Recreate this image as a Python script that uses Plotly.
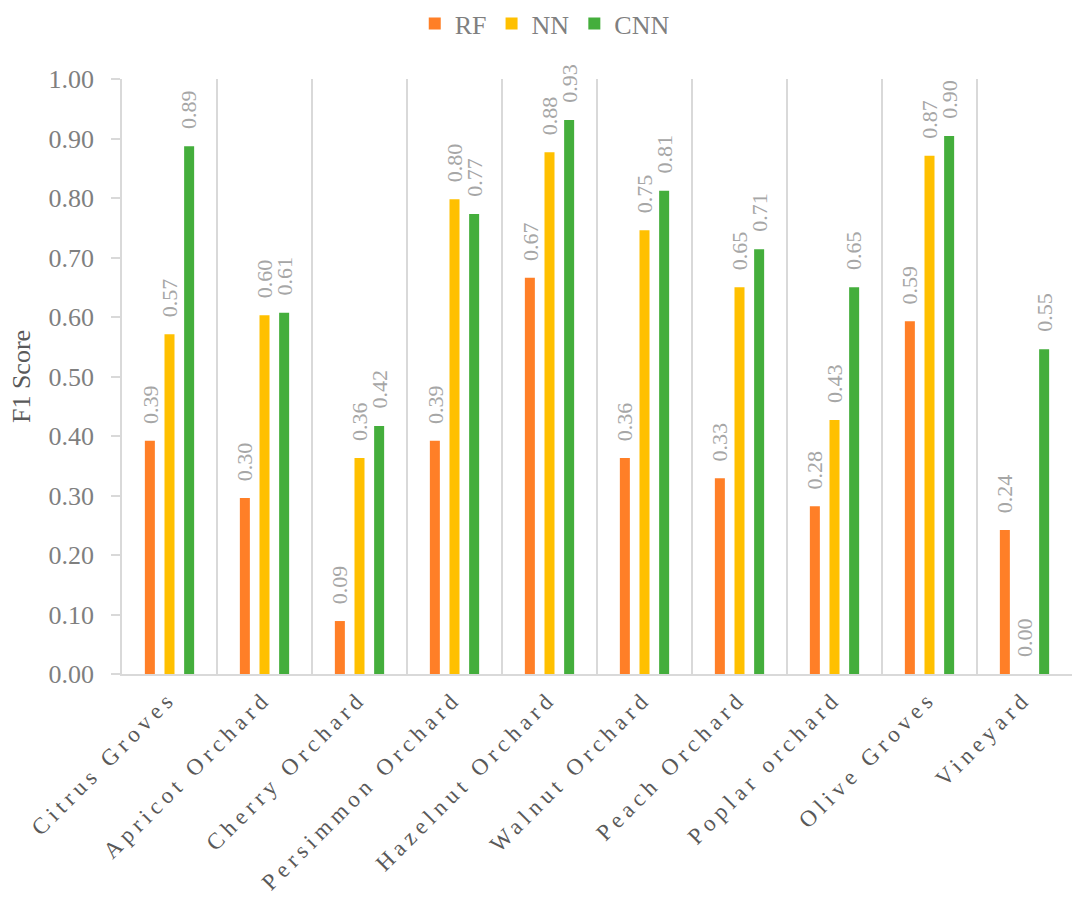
import plotly.graph_objects as go

categories = ["Citrus Groves", "Apricot Orchard", "Cherry Orchard", "Persimmon Orchard",
              "Hazelnut Orchard", "Walnut Orchard", "Peach Orchard", "Poplar orchard",
              "Olive Groves", "Vineyard"]
series_names = ["RF", "NN", "CNN"]
rf = [0.392, 0.296, 0.089, 0.392, 0.666, 0.363, 0.329, 0.282, 0.593, 0.242]
nn = [0.571, 0.603, 0.363, 0.798, 0.877, 0.746, 0.650, 0.427, 0.871, 0.000]
cnn = [0.887, 0.607, 0.417, 0.773, 0.931, 0.812, 0.714, 0.650, 0.904, 0.546]
y_ticks = [0.0, 0.1, 0.2, 0.3, 0.4, 0.5, 0.6, 0.7, 0.8, 0.9, 1.0]
y_title = "F1 Score"

series_values = [rf, nn, cnn]
colors = ["#FF7F27", "#FFC000", "#44AE3C"]
FONT = "Liberation Serif"

fig = go.Figure()
for name, vals, col in zip(series_names, series_values, colors):
    fig.add_trace(go.Bar(x=categories, y=vals, name=name,
                         marker=dict(color=col, line=dict(width=0))))

slot_px = 19.7
annotations = []
for j, vals in enumerate(series_values):
    for cat, v in zip(categories, vals):
        annotations.append(dict(
            x=cat, y=v, xref="x", yref="y", text=f"{v:.2f}", textangle=-90,
            showarrow=False, xanchor="center", yanchor="bottom",
            xshift=(j - 1) * slot_px, yshift=15,
            font=dict(family=FONT, size=22, color="#A6A6A6")))

ticktext = [f'<span style="letter-spacing:5px">{c}</span>' for c in categories]

fig.update_layout(
    width=1072, height=901,
    margin=dict(l=122, r=0, t=79, b=227),
    paper_bgcolor="white", plot_bgcolor="white",
    barmode="group", bargap=0.38, bargroupgap=0.49,
    font=dict(family=FONT, color="#595959"),
    showlegend=True,
    legend=dict(orientation="h", x=0.445, xanchor="center", y=1.0, yanchor="top",
                yref="container", font=dict(family=FONT, size=26, color="#7F7F7F"),
                itemwidth=30, tracegroupgap=0),
    annotations=annotations,
)
fig.update_xaxes(
    type="category", tickson="boundaries", showgrid=True, gridcolor="#D9D9D9",
    gridwidth=1.5, showline=True, linecolor="#D9D9D9", linewidth=1.5,
    ticks="", tickangle=-45, tickvals=categories, ticktext=ticktext,
    tickfont=dict(family=FONT, size=23, color="#595959"), automargin=False,
    zeroline=False,
)
fig.update_yaxes(
    range=[0, 1], tickvals=y_ticks, tickformat=".2f", showgrid=False,
    showline=True, linecolor="#D9D9D9", linewidth=1.5, ticks="outside",
    ticklen=9, tickcolor="#D9D9D9", tickwidth=1.5, ticklabelstandoff=12,
    tickfont=dict(family=FONT, size=26, color="#7F7F7F"), zeroline=False,
    title=dict(text=y_title, font=dict(family=FONT, size=26, color="#595959"), standoff=10),
    automargin=False,
)

fig.write_html("out.html")
